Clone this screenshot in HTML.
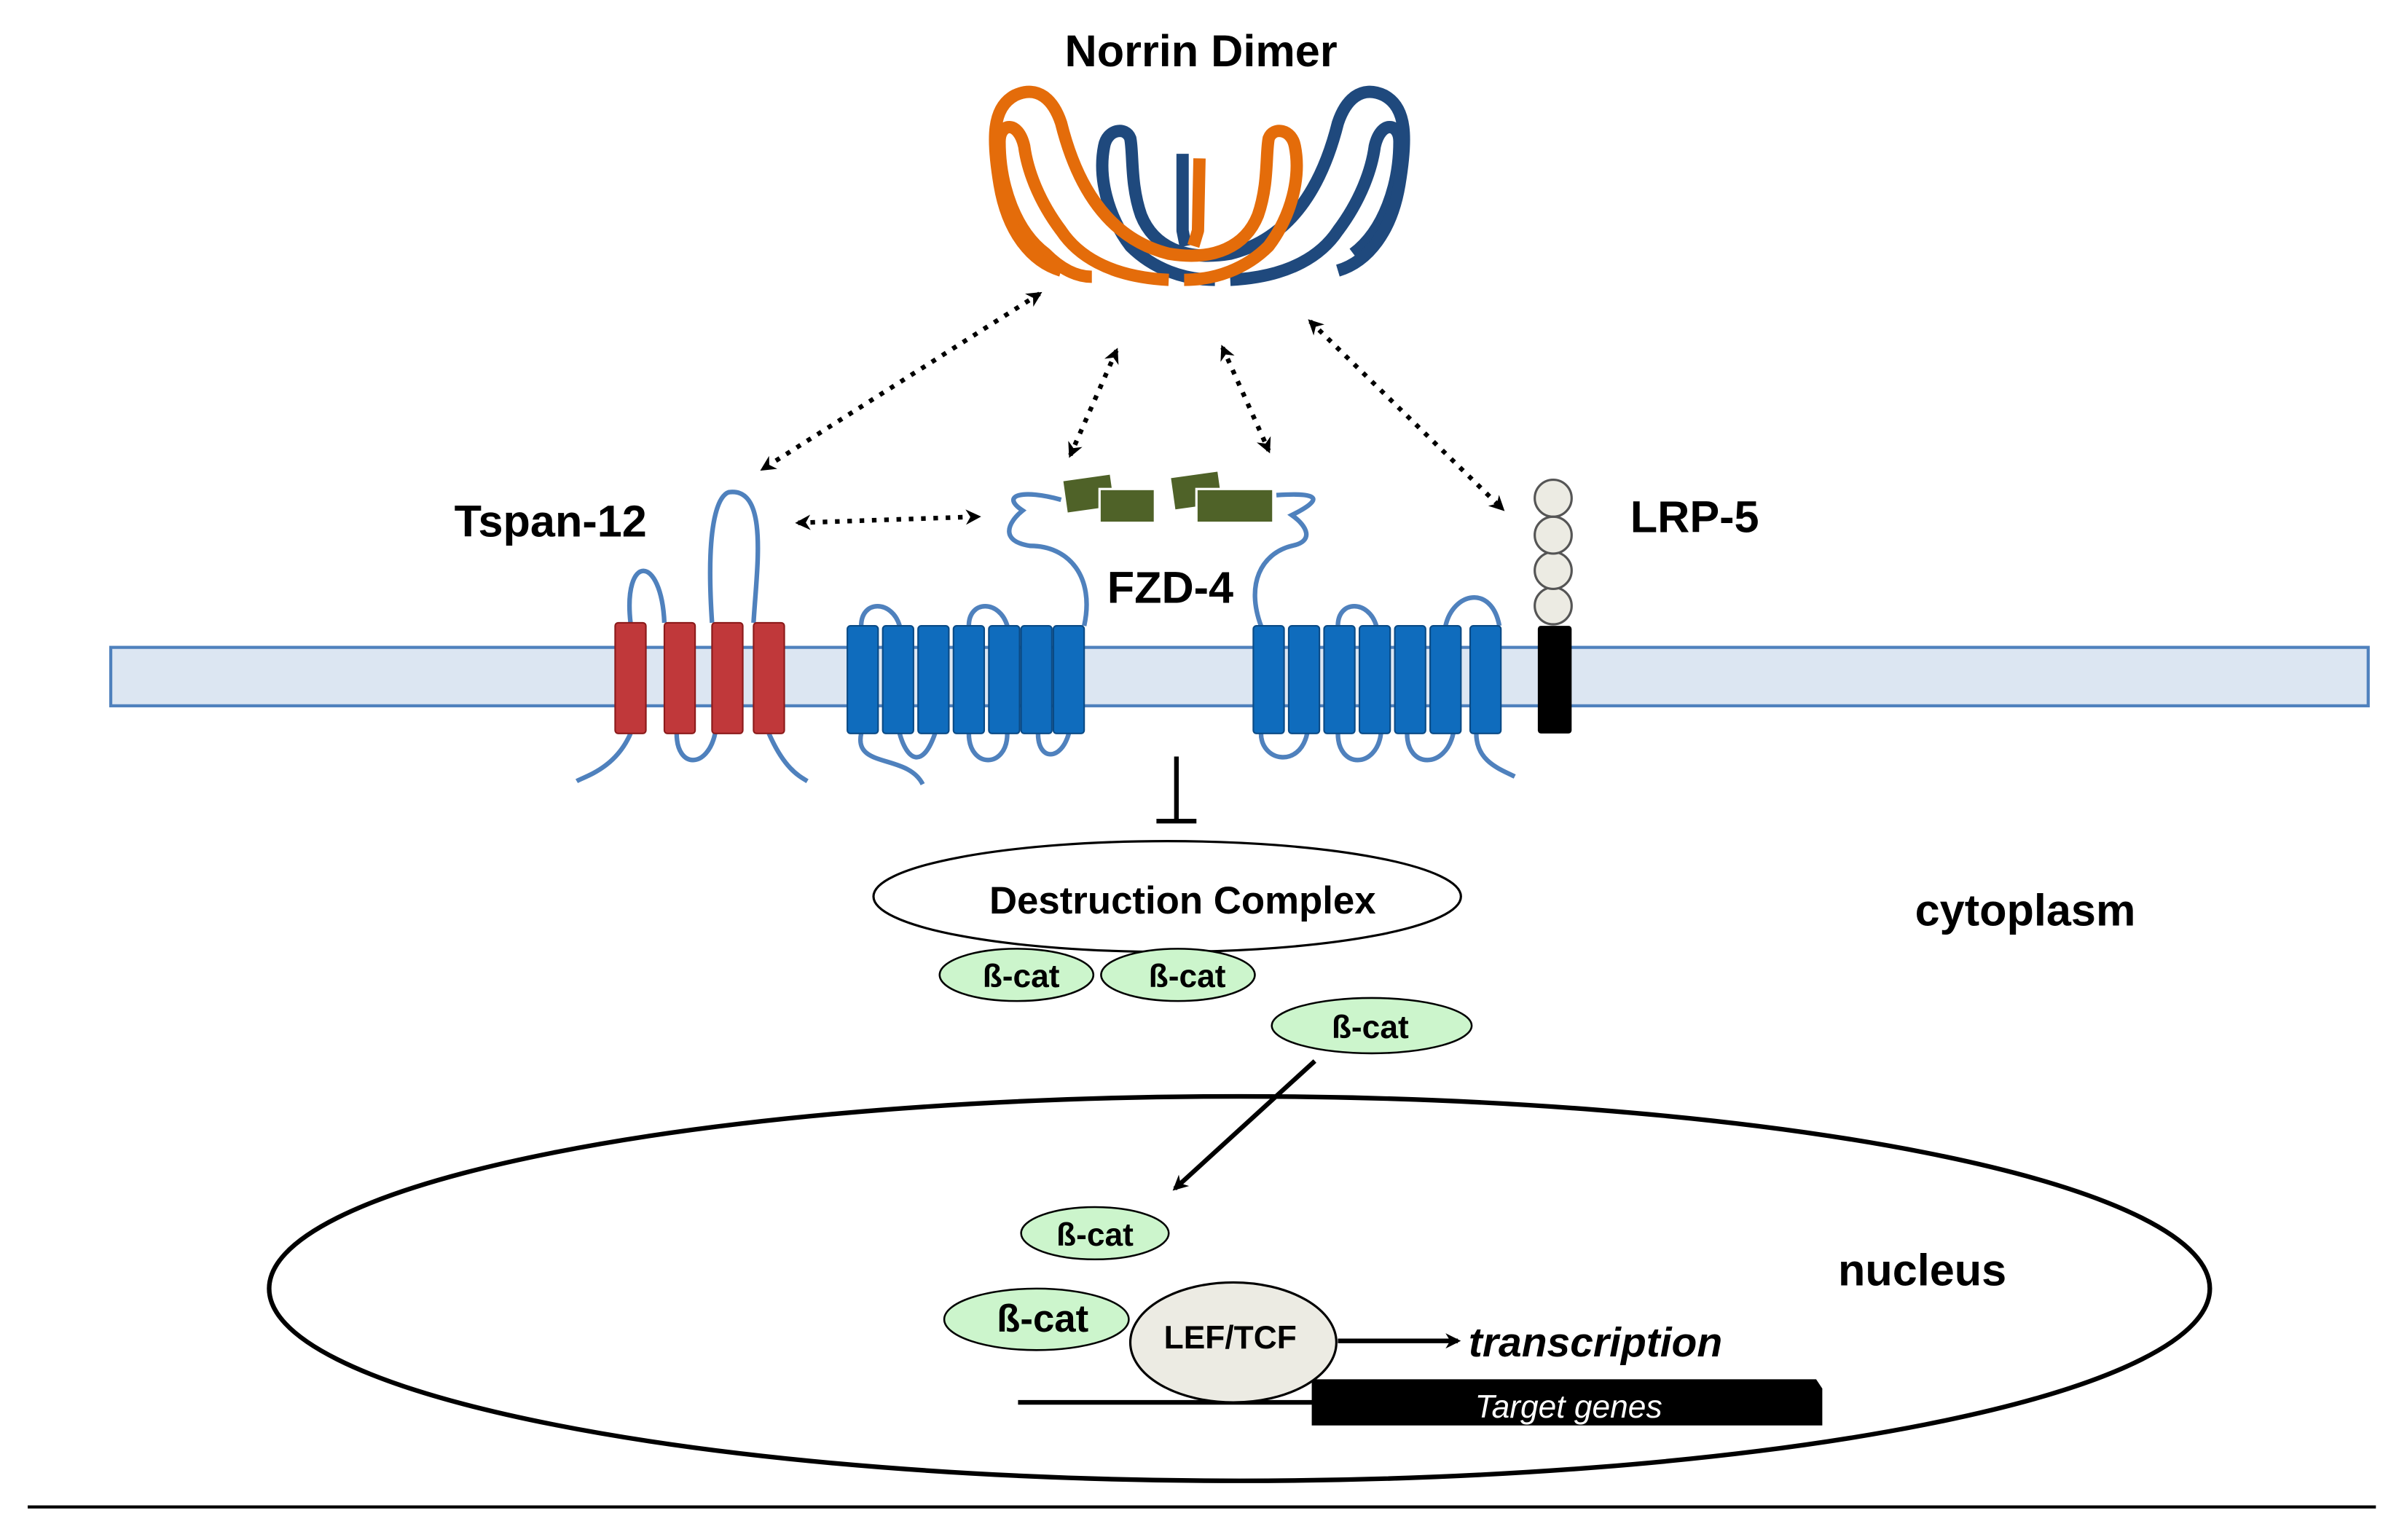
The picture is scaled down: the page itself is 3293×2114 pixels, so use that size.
<!DOCTYPE html>
<html><head><meta charset="utf-8"><style>
html,body{margin:0;padding:0;background:#fff;}
svg{display:block;}
text{font-family:"Liberation Sans",Arial,sans-serif;}
</style></head><body>
<svg width="3293" height="2114" viewBox="0 0 1560 1001.5" xmlns="http://www.w3.org/2000/svg">
<defs>
<marker id="ah" markerWidth="10" markerHeight="10" refX="8" refY="5" orient="auto-start-reverse" markerUnits="userSpaceOnUse"><path d="M0,0 L10,5 L0,10 L3,5 Z" fill="#000"/></marker>
</defs>
<text x="781" y="43" font-size="29" font-weight="bold" text-anchor="middle">Norrin Dimer</text>
<g fill="none" stroke="#1f497d" stroke-width="8" stroke-linejoin="round">
<g transform="translate(1560,0) scale(-1,1)">
<path d="M760 182 C720 180 700 165 690 150 C675 130 668 110 666 95 C662 78 650 80 650 92 C650 120 660 150 680 165"/>
<path d="M690 176 C670 170 655 150 650 120 C645 90 645 70 660 62 C675 55 685 65 690 80 C700 120 720 155 760 165 C790 170 810 160 818 140 C825 120 823 100 825 90 C828 82 840 84 842 95 C846 115 840 140 825 160 C810 175 790 182 770 182"/>
</g>
<path d="M769 100 L769 150 L771 160"/>
</g>
<g fill="none" stroke="#e46c0a" stroke-width="8" stroke-linejoin="round">
<path d="M760 182 C720 180 700 165 690 150 C675 130 668 110 666 95 C662 78 650 80 650 92 C650 120 660 150 680 165 C690 175 700 180 710 180"/>
<path d="M690 176 C670 170 655 150 650 120 C645 90 645 70 660 62 C675 55 685 65 690 80 C700 120 720 155 760 165 C790 170 810 160 818 140 C825 120 823 100 825 90 C828 82 840 84 842 95 C846 115 840 140 825 160 C810 175 790 182 770 182"/>
<path d="M780 103 L779 150 L776 160"/>
</g>
<g stroke="#000" stroke-width="3" stroke-dasharray="3,5" fill="none">
<line x1="676" y1="191" x2="496" y2="305" marker-start="url(#ah)" marker-end="url(#ah)"/>
<line x1="726" y1="228" x2="696" y2="296" marker-start="url(#ah)" marker-end="url(#ah)"/>
<line x1="795" y1="226" x2="825" y2="293" marker-start="url(#ah)" marker-end="url(#ah)"/>
<line x1="852" y1="209" x2="977" y2="331" marker-start="url(#ah)" marker-end="url(#ah)"/>
<line x1="519" y1="340" x2="636" y2="336" marker-start="url(#ah)" marker-end="url(#ah)"/>
</g>
<text x="358" y="349" font-size="29" font-weight="bold" text-anchor="middle">Tspan-12</text>
<text x="1102" y="346" font-size="29" font-weight="bold" text-anchor="middle">LRP-5</text>
<text x="761" y="392" font-size="29" font-weight="bold" text-anchor="middle">FZD-4</text>
<text x="1317" y="602" font-size="29" font-weight="bold" text-anchor="middle">cytoplasm</text>
<text x="1250" y="836" font-size="29" font-weight="bold" text-anchor="middle">nucleus</text>
<rect x="72" y="421" width="1468" height="38" fill="#dce6f2" stroke="#4f81bd" stroke-width="2"/>
<g fill="none" stroke="#4f81bd" stroke-width="3">
<path d="M410 405 C405 360 430 360 432 405"/>
<path d="M463 405 C458 330 470 320 475 320 C500 318 492 370 490 405"/>
<path d="M440 477 C440 500 460 500 465 477"/>
<path d="M410 477 C400 500 380 505 375 508"/>
<path d="M500 477 C510 500 520 505 525 508"/>
<path d="M560 477 C555 500 590 490 600 510"/>
<path d="M585 477 C590 495 600 500 608 477"/>
<path d="M630 477 C630 500 655 500 655 477"/>
<path d="M675 477 C675 495 690 495 695 477"/>
<path d="M705 407 C712 375 695 355 670 355 C650 352 655 340 665 332 C650 322 665 318 690 325"/>
<path d="M820 477 C820 495 845 500 850 477"/>
<path d="M870 477 C870 500 895 500 898 477"/>
<path d="M915 477 C915 500 940 500 945 477"/>
<path d="M960 477 C960 495 975 500 985 505"/>
<path d="M820 407 C810 380 820 360 840 355 C855 352 850 342 840 335 C860 325 860 320 830 322"/>
<path d="M560 407 C560 390 580 390 585 407"/>
<path d="M630 407 C630 390 650 390 655 407"/>
<path d="M870 407 C870 390 890 390 895 407"/>
<path d="M940 407 C945 385 970 380 975 407"/>
</g>
<g fill="#c0383a" stroke="#8b1a1a" stroke-width="1">
<rect x="400" y="405" width="20" height="72" rx="2"/>
<rect x="432" y="405" width="20" height="72" rx="2"/>
<rect x="463" y="405" width="20" height="72" rx="2"/>
<rect x="490" y="405" width="20" height="72" rx="2"/>
</g>
<g fill="#0f6cbd" stroke="#0a4a85" stroke-width="1">
<rect x="551" y="407" width="20" height="70" rx="2"/>
<rect x="574" y="407" width="20" height="70" rx="2"/>
<rect x="597" y="407" width="20" height="70" rx="2"/>
<rect x="620" y="407" width="20" height="70" rx="2"/>
<rect x="643" y="407" width="20" height="70" rx="2"/>
<rect x="664" y="407" width="20" height="70" rx="2"/>
<rect x="685" y="407" width="20" height="70" rx="2"/>
<rect x="815" y="407" width="20" height="70" rx="2"/>
<rect x="838" y="407" width="20" height="70" rx="2"/>
<rect x="861" y="407" width="20" height="70" rx="2"/>
<rect x="884" y="407" width="20" height="70" rx="2"/>
<rect x="907" y="407" width="20" height="70" rx="2"/>
<rect x="930" y="407" width="20" height="70" rx="2"/>
<rect x="956" y="407" width="20" height="70" rx="2"/>
</g>
<rect x="1000" y="407" width="22" height="70" rx="2" fill="#000"/>
<g fill="#ecebe3" stroke="#555" stroke-width="1.5">
<circle cx="1010" cy="394" r="12"/><circle cx="1010" cy="371" r="12"/><circle cx="1010" cy="348" r="12"/><circle cx="1010" cy="324" r="12"/>
</g>
<g fill="#4f6228" stroke="#fff" stroke-width="1.5">
<rect x="692" y="310" width="32" height="22" transform="rotate(-8 708 321)"/>
<rect x="715" y="318" width="36" height="22"/>
<rect x="762" y="308" width="32" height="22" transform="rotate(-8 778 319)"/>
<rect x="778" y="318" width="50" height="22"/>
</g>
<line x1="765" y1="492" x2="765" y2="534" stroke="#000" stroke-width="3"/>
<line x1="752" y1="534" x2="778" y2="534" stroke="#000" stroke-width="3"/>
<ellipse cx="759" cy="583" rx="191" ry="36" fill="#fff" stroke="#000" stroke-width="1.5"/>
<text x="769" y="594" font-size="25" font-weight="bold" text-anchor="middle">Destruction Complex</text>
<g fill="#ccf5cc" stroke="#000" stroke-width="1.2">
<ellipse cx="661" cy="634" rx="50" ry="17"/>
<ellipse cx="766" cy="634" rx="50" ry="17"/>
<ellipse cx="892" cy="667" rx="65" ry="18"/>
</g>
<g font-size="21" font-weight="bold" text-anchor="middle">
<text x="664" y="642">ß-cat</text><text x="772" y="642">ß-cat</text><text x="891" y="675">ß-cat</text>
</g>
<ellipse cx="806" cy="838" rx="631" ry="125" fill="none" stroke="#000" stroke-width="3"/>
<line x1="855" y1="690" x2="764" y2="773" stroke="#000" stroke-width="3" marker-end="url(#ah)"/>
<g fill="#ccf5cc" stroke="#000" stroke-width="1.2">
<ellipse cx="712" cy="802" rx="48" ry="17"/>
<ellipse cx="674" cy="858" rx="60" ry="20"/>
</g>
<text x="712" y="810" font-size="21" font-weight="bold" text-anchor="middle">ß-cat</text>
<text x="678" y="866" font-size="25" font-weight="bold" text-anchor="middle">ß-cat</text>
<line x1="662" y1="912" x2="860" y2="912" stroke="#000" stroke-width="3"/>
<path d="M853 897 L1181 897 L1185 903 L1185 927 L853 927 Z" fill="#000"/>
<text x="1020" y="922" font-size="21" font-style="italic" fill="#fff" text-anchor="middle">Target genes</text>
<ellipse cx="802" cy="873" rx="67" ry="39" fill="#ecebe3" stroke="#000" stroke-width="1.5"/>
<text x="800" y="877" font-size="21" font-weight="bold" text-anchor="middle">LEF/TCF</text>
<line x1="870" y1="872" x2="948" y2="872" stroke="#000" stroke-width="3" marker-end="url(#ah)"/>
<text x="955" y="882" font-size="27" font-weight="bold" font-style="italic">transcription</text>
<line x1="18" y1="980" x2="1545" y2="980" stroke="#000" stroke-width="2"/>
</svg>
</body></html>
